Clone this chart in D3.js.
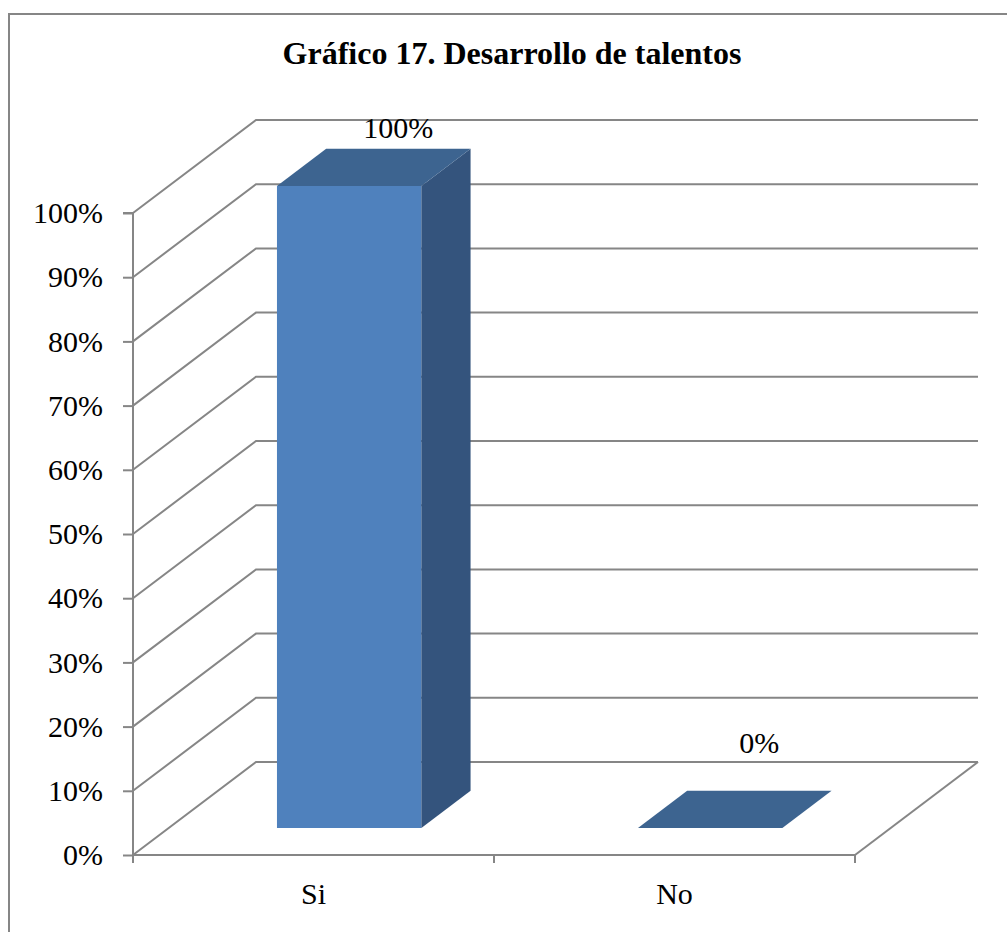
<!DOCTYPE html>
<html>
<head>
<meta charset="utf-8">
<script src="https://cdn.jsdelivr.net/npm/d3@7"></script>
<style>
  html, body { margin: 0; padding: 0; background: #fff; }
  svg text { font-family: "Liberation Serif", "Times New Roman", Times, serif; fill: #000; }
</style>
</head>
<body>
<svg id="chart" width="1007" height="932"></svg>
<script>
// data
const title      = "Gráfico 17. Desarrollo de talentos";
const categories = ["Si", "No"];
const values     = [1.0, 0.0];
const yTicks     = [0, 0.1, 0.2, 0.3, 0.4, 0.5, 0.6, 0.7, 0.8, 0.9, 1.0];

// layout
const svg = d3.select("#chart");
const W = 1007, H = 932;
const plot = { left: 133, right: 855, top: 213, bottom: 855 };
const depth = { dx: 123, dy: -93 };        // full floor depth offset
const barDepth = [0.29, 0.69];             // bar occupies this slice of the depth
const grid = "#868686";
const labelSize = "30px";

const y = d3.scaleLinear().domain([0, 1]).range([plot.bottom, plot.top]);
const x = d3.scaleBand().domain(categories).range([plot.left, plot.right]);
const barW = x.bandwidth() / 2.5;           // gap width 150%
const fmt = d3.format(".0%");

// project a front-plane point back by depth fraction t
const proj = (px, py, t) => [px + depth.dx * t, py + depth.dy * t];

// 1) outer frame
svg.append("rect")
  .attr("x", 9).attr("y", 14).attr("width", W).attr("height", H)
  .attr("fill", "none").attr("stroke", grid).attr("stroke-width", 2);

// 2) title
svg.append("text")
  .attr("x", 512).attr("y", 64)
  .attr("text-anchor", "middle")
  .style("font-size", "32px").style("font-weight", "bold")
  .text(title);

// 3) walls: back gridlines + side diagonals
const g = svg.append("g").attr("stroke", grid).attr("stroke-width", 2).attr("fill", "none");
yTicks.forEach(t => {
  const [bx, by] = proj(plot.left, y(t), 1);
  const [ex] = proj(plot.right, y(t), 1);
  g.append("path").attr("d", `M${plot.left},${y(t)}L${bx},${by}L${ex},${by}`);
});

// floor right edge
const [fx, fy] = proj(plot.right, y(0), 1);
g.append("line").attr("x1", plot.right).attr("y1", y(0)).attr("x2", fx).attr("y2", fy);

// 4) axes
const yAxis = d3.axisLeft(y).tickValues(yTicks).tickFormat(fmt).tickSize(10).tickPadding(20);
svg.append("g").attr("transform", `translate(${plot.left},0)`).call(yAxis)
  .attr("font-family", null).attr("font-size", null)
  .call(a => a.select(".domain").attr("stroke", grid).attr("stroke-width", 2)
      .attr("d", `M-10,${plot.top}H0V${plot.bottom + 8}`))
  .call(a => a.selectAll(".tick line").attr("stroke", grid).attr("stroke-width", 2))
  .call(a => a.selectAll(".tick text").style("font-size", labelSize).attr("fill", "#000"));

const xAxis = d3.axisBottom(x).tickSize(0).tickPadding(28);
svg.append("g").attr("transform", `translate(0,${plot.bottom})`).call(xAxis)
  .attr("font-family", null).attr("font-size", null)
  .call(a => a.select(".domain").attr("stroke", grid).attr("stroke-width", 2)
      .attr("d", `M${plot.left},0H${plot.right}`))
  .call(a => a.selectAll(".tick text").style("font-size", labelSize).attr("fill", "#000"));

// category dividers below the axis
svg.append("g").selectAll("line")
  .data([plot.left, x("No"), plot.right])
  .join("line")
    .attr("x1", d => d).attr("x2", d => d)
    .attr("y1", plot.bottom).attr("y2", plot.bottom + 8)
    .attr("stroke", grid).attr("stroke-width", 2);

// 5) bars
const bars = svg.append("g");
categories.forEach((c, i) => {
  const v = values[i];
  const x0 = x(c) + (x.bandwidth() - barW) / 2, x1 = x0 + barW;
  const yb = y(0), yt = y(v);
  const [t0, t1] = barDepth;
  const P = (px, py, t) => proj(px, py, t).join(",");

  if (v > 0) {
    // front
    bars.append("path").attr("fill", "#4F81BD")
      .attr("d", `M${P(x0, yb, t0)}L${P(x1, yb, t0)}L${P(x1, yt, t0)}L${P(x0, yt, t0)}Z`);
    // side
    bars.append("path").attr("fill", "#34547D")
      .attr("d", `M${P(x1, yb, t0)}L${P(x1, yb, t1)}L${P(x1, yt, t1)}L${P(x1, yt, t0)}Z`);
  }
  // top
  bars.append("path").attr("fill", "#3D6490")
    .attr("d", `M${P(x0, yt, t0)}L${P(x1, yt, t0)}L${P(x1, yt, t1)}L${P(x0, yt, t1)}Z`);

  // data label
  const [lx, ly] = proj(x(c) + x.bandwidth() / 2, yt, t1);
  const floorBack = proj(0, y(0), 1)[1];
  bars.append("text")
    .attr("x", lx).attr("y", Math.min(ly - 11, floorBack - 9))
    .attr("text-anchor", "middle")
    .style("font-size", labelSize)
    .text(fmt(v));
});
</script>
</body>
</html>
